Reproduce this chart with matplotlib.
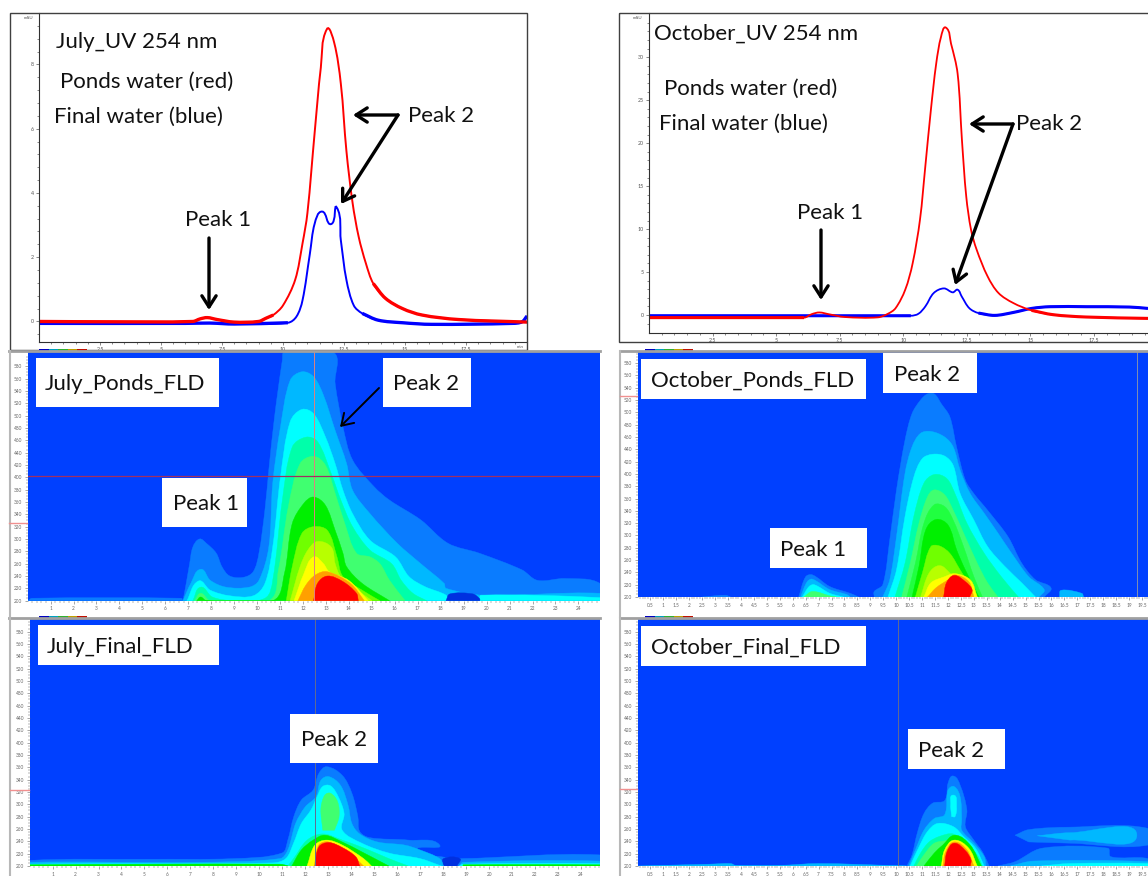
import matplotlib
matplotlib.use('Agg')

import numpy as np
import matplotlib.pyplot as plt
from matplotlib.patches import PathPatch, Rectangle
from matplotlib.path import Path

plt.rcParams['font.family'] = ['Lato', 'DejaVu Sans']

W, H = 1148, 876

## UV traces, (min, mAU) ##
JUL_RED_T = [0, 3, 6.3, 6.6, 6.9, 7.3, 8, 9, 9.3, 9.6, 10, 10.5, 10.8, 11, 11.3, 11.55, 11.8, 12.1, 12.37, 12.6, 12.85, 13.1, 13.4, 13.7, 14.2, 14.9, 15.7, 17.2, 20]
JUL_RED_Y = [0.0, -0.01, 0.0, 0.08, 0.12, 0.06, -0.02, 0.0, 0.1, 0.2, 0.5, 1.3, 2.43, 3.37, 5.9, 7.9, 9.1, 8.67, 7.4, 5.3, 3.7, 2.64, 1.8, 1.18, 0.72, 0.4, 0.2, 0.06, -0.02]
JUL_BLUE_T = [0, 6, 7, 8, 10.2, 10.55, 10.8, 11.1, 11.3, 11.6, 11.97, 12.2, 12.37, 12.6, 12.9, 13.25, 13.9, 14.9, 16.1, 19.4, 19.8, 20]
JUL_BLUE_Y = [-0.06, -0.06, -0.05, -0.08, -0.04, 0.15, 0.66, 2.1, 3.05, 3.42, 3.03, 3.55, 2.53, 1.29, 0.5, 0.25, 0.04, -0.04, -0.09, -0.06, -0.01, 0.17]

OCT_RED_T = [0, 6.1, 6.4, 6.7, 7.1, 7.7, 9.0, 9.4, 9.7, 10.08, 10.37, 10.66, 10.87, 11.09, 11.3, 11.49, 11.68, 11.88, 12.14, 12.31, 12.48, 12.67, 12.89, 13.32, 13.75, 14.33, 15.05, 15.9, 17.2, 19.63]
OCT_RED_Y = [-0.3, -0.3, 0.1, 0.3, 0.08, -0.23, -0.27, 0.15, 0.8, 2.95, 6, 11.1, 17.3, 23.9, 29.3, 32.4, 33.45, 31.6, 28.1, 20.4, 13.8, 9.9, 7.6, 4.5, 2.56, 1.4, 0.54, 0.04, -0.23, -0.39]
OCT_BLUE_T = [0, 10.3, 10.6, 10.87, 11.2, 11.6, 11.95, 12.14, 12.3, 12.6, 12.96, 13.6, 14.33, 15.05, 15.77, 17.2, 18.9, 19.63]
OCT_BLUE_Y = [-0.08, -0.08, 0.15, 1.0, 2.56, 3.1, 2.64, 2.95, 2.17, 0.8, 0.23, -0.04, 0.3, 0.77, 0.97, 0.97, 0.93, 0.77]

## FLD contour outlines, (min, nm) ##
JP_BASE = [(0, 200), (0.2, 204), (6.7, 204), (6.77, 200)]
JP_L1 = [(6.77, 200), (6.91, 228), (7.06, 260), (7.2, 287), (7.49, 300), (7.79, 293), (8.22, 277), (8.47, 255), (8.81, 240), (9.41, 238), (9.83, 247), (10.08, 277), (10.34, 347), (10.51, 412), (10.76, 498), (11.1, 590), (11.19, 603), (13.31, 603), (13.4, 552), (13.74, 482), (14.16, 428), (15.09, 385), (15.77, 363), (17.13, 331), (18.32, 293), (19.68, 277), (21.54, 250), (22.22, 233), (23.41, 236), (24.94, 228), (24.94, 200)]
JP_L2 = [(6.77, 200), (7.11, 228), (7.54, 251), (7.96, 233), (8.64, 222), (9.66, 222), (10.08, 233), (10.51, 287), (10.68, 390), (11.02, 482), (11.44, 557), (11.95, 571), (12.46, 563), (12.89, 533), (13.4, 476), (13.9, 422), (14.16, 379), (14.92, 341), (16.11, 293), (17.13, 260), (18.15, 228), (18.23, 220), (19.85, 209), (24.94, 212), (24.94, 200)]
JP_L3 = [(6.94, 200), (7.45, 232), (7.96, 217), (8.81, 208), (9.83, 208), (10.34, 228), (10.68, 287), (11.02, 401), (11.44, 490), (11.95, 510), (12.46, 503), (12.97, 466), (13.4, 422), (13.74, 379), (14.16, 341), (14.92, 298), (16.03, 271), (16.62, 239), (17.3, 223), (18.23, 209), (18.32, 200)]
JP_L3B = [(19.7, 200), (19.76, 209), (24.94, 205), (24.94, 200)]
JP_GAP = [(18.23, 200), (18.4, 211), (19.4, 211), (19.7, 203), (19.7, 200)]
JP_L4 = [(7.2, 200), (7.54, 222), (8.05, 206), (8.98, 200), (10.34, 204), (10.68, 233), (11.1, 363), (11.53, 449), (12.12, 465), (12.63, 458), (13.23, 406), (13.65, 363), (14.16, 320), (14.92, 282), (15.86, 260), (16.28, 233), (16.79, 212), (17.39, 200)]
JP_L5 = [(7.28, 200), (7.54, 212), (7.96, 200), (10.51, 200), (10.93, 250), (11.36, 352), (11.87, 422), (12.46, 434), (12.97, 420), (13.4, 374), (13.82, 325), (14.33, 277), (14.92, 271), (15.35, 260), (15.77, 233), (16.45, 200)]
JP_L6 = [(7.37, 200), (7.54, 206), (7.79, 200), (10.68, 200), (11.19, 244), (11.53, 325), (12.04, 358), (12.46, 368), (12.97, 355), (13.4, 314), (13.74, 277), (13.9, 255), (14.58, 228), (15.77, 200)]
JP_L7 = [(11.27, 200), (11.53, 255), (11.95, 309), (12.46, 320), (13.06, 314), (13.48, 271), (13.74, 239), (14.58, 217), (15.35, 200)]
JP_L8 = [(11.44, 200), (11.87, 255), (12.21, 282), (12.63, 296), (13.23, 287), (13.4, 260), (13.65, 239), (14.67, 209), (15.01, 200)]
JP_L9 = [(11.61, 200), (12.04, 244), (12.46, 271), (12.89, 260), (13.14, 247), (13.99, 233), (14.84, 200)]
JP_L10 = [(11.78, 200), (12.12, 225), (12.55, 242), (13.06, 247), (14.07, 228), (14.67, 200)]
JP_L11 = [(12.46, 200), (12.63, 228), (13.06, 240), (13.74, 231), (14.33, 212), (14.41, 200)]

OP_L1 = [(9.15, 200), (9.15, 209), (9.48, 220), (9.75, 293), (10.01, 374), (10.34, 455), (10.61, 498), (10.94, 520), (11.21, 530), (11.47, 530), (11.74, 514), (12.07, 493), (12.33, 444), (12.67, 390), (13.0, 368), (13.53, 341), (14.32, 298), (14.85, 255), (15.38, 228), (15.98, 215), (15.72, 200)]
OP_P1_L1 = [(6.23, 200), (6.5, 233), (6.76, 236), (7.43, 217), (8.22, 206), (8.55, 200)]
OP_P1_L2 = [(6.3, 200), (6.56, 225), (6.76, 229), (7.43, 212), (8.09, 204), (8.22, 200)]
OP_P1_L3 = [(6.37, 200), (6.63, 217), (6.83, 220), (7.43, 206), (7.96, 200)]
OP_P1_L4 = [(6.43, 200), (6.76, 209), (7.43, 202), (7.69, 200)]
OP_TAIL = [(16.31, 200), (16.38, 211), (17.17, 206), (17.24, 200)]
OP_BUMP = [(2.5, 200), (3.4, 203), (3.6, 200)]
OP_L2 = [(9.48, 200), (9.75, 228), (10.01, 298), (10.34, 401), (10.61, 444), (10.94, 466), (11.34, 469), (11.87, 460), (12.2, 444), (12.47, 406), (12.86, 368), (13.4, 336), (13.93, 304), (14.46, 271), (15.12, 233), (15.72, 212), (15.52, 200)]
OP_L3 = [(9.68, 200), (10.01, 244), (10.34, 331), (10.68, 395), (11.01, 425), (11.41, 432), (11.87, 429), (12.2, 414), (12.47, 368), (13.0, 325), (13.53, 282), (14.19, 250), (14.85, 223), (15.38, 200)]
OP_L4 = [(9.95, 200), (10.34, 255), (10.68, 331), (11.07, 385), (11.47, 399), (11.94, 393), (12.27, 368), (12.73, 320), (13.4, 271), (14.06, 233), (14.72, 200)]
OP_L5 = [(10.21, 200), (10.54, 255), (10.88, 320), (11.21, 363), (11.47, 374), (11.87, 366), (12.2, 341), (12.6, 304), (13.13, 255), (13.53, 223), (13.93, 200)]
OP_L5B = [(10.41, 200), (10.74, 255), (11.07, 320), (11.47, 350), (11.87, 347), (12.2, 325), (12.6, 282), (13.0, 233), (13.33, 200)]
OP_L6 = [(10.61, 200), (10.88, 250), (11.14, 309), (11.54, 326), (12.0, 317), (12.33, 277), (12.67, 244), (13.2, 200)]
OP_L7 = [(10.74, 200), (11.01, 239), (11.34, 282), (11.67, 283), (12.07, 271), (12.47, 244), (13.13, 200)]
OP_L8 = [(10.94, 200), (11.27, 239), (11.67, 251), (12.07, 239), (13.06, 200)]
OP_L9 = [(11.07, 200), (11.34, 223), (11.87, 233), (12.27, 238), (12.86, 228), (13.13, 200)]
OP_L10 = [(11.21, 200), (11.54, 215), (12.0, 228), (12.27, 236), (12.8, 225), (13.0, 200)]
OP_L11 = [(11.83, 200), (11.94, 223), (12.24, 235), (12.67, 225), (12.93, 212), (12.84, 200)]

JF_L1 = [(0, 200), (0, 209), (5.14, 211), (8.86, 212), (10.98, 221), (11.24, 242), (11.5, 280), (11.83, 307), (12.34, 323), (12.59, 350), (12.93, 361), (13.61, 347), (14.03, 318), (14.29, 280), (14.37, 256), (14.8, 246), (16.49, 242), (17.85, 234), (16.83, 225), (17.93, 215), (18.69, 212), (24.8, 218), (24.83, 200)]
JF_GAP = [(18.02, 200), (18.02, 212), (18.73, 212), (18.6, 200)]
JF_L2 = [(0, 200), (0, 206), (7.17, 206), (10.9, 212), (11.24, 226), (11.58, 269), (12.0, 296), (12.46, 312), (12.68, 339), (13.02, 345), (13.53, 331), (13.86, 299), (14.03, 269), (14.37, 252), (15.14, 239), (16.32, 234), (17.0, 226), (17.85, 212), (18.02, 200)]
JF_L2B = [(18.7, 200), (18.87, 206), (24.8, 208), (24.83, 200)]
JF_L3 = [(0, 200), (0, 203), (10.56, 205), (11.15, 212), (11.49, 237), (11.83, 269), (12.25, 291), (12.51, 312), (12.76, 329), (13.1, 330), (13.44, 312), (13.69, 285), (13.61, 258), (14.46, 237), (15.64, 221), (17.0, 212), (17.93, 200)]
JF_L3B = [(18.7, 200), (18.87, 203), (24.8, 204), (24.83, 200)]
JF_L4 = [(11.24, 200), (11.49, 212), (12.08, 242), (12.76, 252), (13.61, 242), (14.63, 228), (15.64, 212), (16.49, 200)]
JF_ISLE = [(12.76, 258), (12.68, 293), (12.85, 315), (13.1, 318), (13.41, 304), (13.47, 280), (13.27, 258)]
JF_STRIP = [(0, 200), (0, 202), (10.9, 203), (11.3, 200)]
JF_STRIPB = [(18.87, 200), (18.87, 202), (24.83, 202), (24.83, 200)]
JF_L6 = [(11.41, 200), (11.83, 226), (12.34, 242), (12.85, 250), (13.61, 239), (14.46, 223), (15.64, 200)]
JF_L9 = [(12.08, 200), (12.42, 234), (12.93, 242), (13.61, 234), (14.54, 212), (14.88, 200)]
JF_L10 = [(12.39, 200), (12.59, 234), (13.02, 239), (13.86, 223), (14.54, 200)]
JF_L11 = [(12.42, 200), (12.59, 231), (13.02, 238), (13.61, 230), (14.2, 215), (14.37, 200)]

OF_BASE = [(0, 200), (2.8, 203), (3.6, 204), (3.8, 201), (5.5, 201), (7.0, 204), (9.7, 201), (10.4, 200)]
OF_L1 = [(10.41, 200), (10.61, 218), (10.81, 253), (11.07, 285), (11.41, 302), (11.87, 306), (12.0, 334), (12.2, 346), (12.47, 331), (12.73, 291), (12.67, 264), (13.0, 242), (13.33, 223), (13.59, 200)]
OF_L2 = [(10.48, 200), (10.74, 226), (11.07, 258), (11.47, 277), (11.87, 283), (12.0, 323), (12.23, 329), (12.47, 312), (12.53, 275), (12.53, 258), (13.0, 237), (13.4, 215), (13.46, 200)]
OF_ISLE = [(12.1, 296), (12.2, 315), (12.33, 296), (12.27, 280), (12.14, 280)]
OF_L3 = [(10.54, 200), (10.88, 231), (11.21, 256), (11.6, 269), (12.2, 264), (12.6, 248), (13.06, 229), (13.4, 200)]
OF_L4 = [(10.68, 200), (10.94, 221), (11.27, 239), (11.67, 248), (12.2, 252), (12.6, 239), (13.13, 218), (13.33, 200)]
OF_L5 = [(10.78, 200), (11.07, 218), (11.47, 237), (12.0, 242), (12.27, 248), (12.8, 229), (13.26, 200)]
OF_L6 = [(11.07, 200), (11.47, 221), (11.8, 234), (12.27, 250), (12.86, 234), (13.29, 200)]
OF_L9 = [(11.74, 200), (11.87, 226), (12.24, 242), (12.8, 229), (13.13, 200)]
OF_L10 = [(11.8, 200), (11.91, 223), (12.24, 239), (12.73, 226), (13.0, 200)]
OF_L11 = [(11.87, 200), (11.96, 223), (12.24, 237), (12.67, 225), (12.89, 210), (12.86, 200)]
OF_TAIL_L1 = [(13.93, 200), (14.59, 207), (15.65, 229), (18.17, 229), (18.3, 215), (19.73, 212), (19.73, 200)]
OF_CLOUD_L1 = [(14.59, 250), (15.12, 259), (16.71, 263), (19.73, 261), (19.73, 234), (16.71, 237), (15.12, 239)]
OF_CLOUD_L2 = [(15.45, 249), (16.71, 254), (19.3, 250), (16.71, 242)]
OF_TAIL_L2 = [(14.4, 200), (15.3, 208), (19.73, 207), (19.73, 200)]
OF_TAIL_L3 = [(15.6, 200), (16.7, 204), (19.73, 204), (19.73, 200)]

BG = '#0040ff'
C1, C2, C3, C4, C5 = '#0a7cff', '#00b8ff', '#00ffff', '#00ffaa', '#40ff70'
C6, C7, C8, C9, C10, C11 = '#00f000', '#70ff00', '#b8ff00', '#ffff00', '#ffa000', '#ff0000'
GAP = '#0030e0'

JP_BANDS = [(JP_BASE, C1), (JP_L1, C1), (JP_L2, C2), (JP_L3, C3), (JP_L3B, C3), (JP_GAP, GAP), (JP_L4, C4), (JP_L5, C5),
            (JP_L6, C6), (JP_L7, C7), (JP_L8, C8), (JP_L9, C9), (JP_L10, C10), (JP_L11, C11)]
OP_BANDS = [(OP_BUMP, C1), (OP_TAIL, C2), (OP_P1_L1, C1), (OP_P1_L2, C2), (OP_P1_L3, C3), (OP_P1_L4, C5), (OP_L1, C1), (OP_L2, C2), (OP_L3, C3),
            (OP_L4, C4), (OP_L5, C5), (OP_L5B, '#20ff40'), (OP_L6, C6), (OP_L7, C7), (OP_L8, C8), (OP_L9, C9), (OP_L10, C10), (OP_L11, C11)]
JF_BANDS = [(JF_L1, C1), (JF_GAP, GAP), (JF_L2, C2), (JF_L2B, C2), (JF_L3, C3), (JF_L3B, C3), (JF_STRIP, C6), (JF_STRIPB, C6), (JF_ISLE, C5),
            (JF_L4, C4), (JF_L6, C6), (JF_L9, C9), (JF_L10, C10), (JF_L11, C11)]
OF_BANDS = [(OF_BASE, C2), (OF_TAIL_L1, C1), (OF_TAIL_L2, C2), (OF_TAIL_L3, C3), (OF_CLOUD_L1, C1), (OF_CLOUD_L2, C2), (OF_L1, C1), (OF_L2, C2), (OF_ISLE, C3), (OF_L3, C3),
            (OF_L4, C4), (OF_L5, C5), (OF_L6, C6), (OF_L9, C9), (OF_L10, C10), (OF_L11, C11)]

JP_LABELS = [('July_Ponds_FLD', 36, 358, 183, 49, 45), ('Peak 2', 383, 358, 88, 49, 393), ('Peak 1', 162, 478, 85, 49, 173)]
OP_LABELS = [('October_Ponds_FLD', 641, 359, 225, 40, 651), ('Peak 2', 883, 353, 94, 40, 894), ('Peak 1', 770, 528, 97, 40, 780)]
JF_LABELS = [('July_Final_FLD', 38, 625, 181, 40, 47), ('Peak 2', 290, 714, 88, 49, 301)]
OF_LABELS = [('October_Final_FLD', 641, 626, 225, 40, 651), ('Peak 2', 908, 729, 97, 40, 918)]


def smooth_path(pts, k, close):
    # bezier path through the read points, k = y units per x unit on screen
    p = np.array(pts, dtype=float)
    p[:, 1] /= k
    n = len(p)
    tan = np.zeros_like(p)
    tan[0] = p[1] - p[0]
    tan[-1] = p[-1] - p[-2]
    tan[1:-1] = p[2:] - p[:-2]
    tan = tan / np.maximum(np.linalg.norm(tan, axis=1, keepdims=True), 1e-9)
    verts = [p[0]]
    codes = [Path.MOVETO]
    for i in range(n - 1):
        seg = np.linalg.norm(p[i + 1] - p[i])
        verts += [p[i] + tan[i] * seg / 3, p[i + 1] - tan[i + 1] * seg / 3, p[i + 1]]
        codes += [Path.CURVE4] * 3
    if close:
        verts.append(p[0])
        codes.append(Path.CLOSEPOLY)
    verts = np.array(verts)
    verts[:, 1] *= k
    return Path(verts, codes)


def px_axes(fig, x0, y0, x1, y1):
    return fig.add_axes([x0 / W, 1 - y1 / H, (x1 - x0) / W, (y1 - y0) / H])


def uv_panel(fig, box, xlim, ylim, yticks, yminor, red, blue, lw, k):
    ax = px_axes(fig, *box)
    ax.set_xlim(*xlim)
    ax.set_ylim(*ylim)
    for s in ['top', 'right']:
        ax.spines[s].set_visible(False)
    for s in ['left', 'bottom']:
        ax.spines[s].set_color('#303030')
    ax.set_xticks(np.arange(2.5, 18, 2.5))
    ax.set_xticklabels(['2.5', '5', '7.5', '10', '12.5', '15', '17.5'])
    ax.set_xticks(np.arange(0.5, xlim[1], 0.5), minor=True)
    ax.set_yticks(yticks)
    ax.set_yticks(yminor, minor=True)
    ax.tick_params(labelsize=3.8, length=2, width=0.5, colors='#555555', pad=1.5)
    ax.tick_params(which='minor', length=1.2, width=0.4, colors='#303030')
    for (t, y, lo, hi), col in [(blue, '#0000ff'), (red, '#ff0000')]:
        pts = list(zip(t, y))
        ax.add_patch(PathPatch(smooth_path(pts, k, False), fill=False, ec=col, lw=lw))
        # flat stretches look thicker in the reference (detector noise)
        for part in ([q for q in pts if q[0] <= lo], [q for q in pts if q[0] >= hi]):
            ax.add_patch(PathPatch(smooth_path(part, k, False), fill=False, ec=col, lw=lw * 1.7))
    return ax


def fld_panel(fig, box, tmax, ytop, bands, xlabels, xstep, xminor, vline, vcol, hline=None):
    ax = px_axes(fig, *box)
    ax.set_facecolor(BG)
    ax.set_xlim(0, tmax)
    ax.set_ylim(200, ytop)
    for outline, col in bands:
        ax.add_patch(PathPatch(smooth_path(outline, 34.0, True), fc=col, ec=col, lw=0.3))
    ax.axvline(vline, color=vcol, lw=0.7)
    if hline is not None:
        ax.axhline(hline, color='#a03060', lw=0.9)
    for s in ax.spines.values():
        s.set_visible(False)
    ax.set_xticks(np.arange(1, len(xlabels) + 1) * xstep)
    ax.set_xticklabels(xlabels)
    ax.set_xticks(np.arange(xminor, tmax, xminor), minor=True)
    ax.set_yticks(np.arange(200, 600, 20))
    ax.set_yticks(np.arange(200, 600, 5), minor=True)
    ax.tick_params(labelsize=3.4, length=2.5, width=0.4, colors='#666666', pad=1.5)
    ax.tick_params(which='minor', length=1.5, width=0.3, colors='#555555')
    return ax


def main():
    fig = plt.figure(figsize=(W / 100, H / 100), dpi=100)

    uv_panel(fig, (39, 13, 527, 341.7), (0, 20.0), (-0.63, 9.6), [0, 2, 4, 6, 8], np.arange(-0.4, 9.6, 0.4),
             (JUL_RED_T, JUL_RED_Y, 9.6, 13.7), (JUL_BLUE_T, JUL_BLUE_Y, 10.2, 13.25), 1.4, 0.76)
    uv_panel(fig, (649, 13, 1148, 333), (0, 19.63), (-2.09, 35.15), [0, 5, 10, 15, 20, 25, 30], np.arange(-1, 35, 1),
             (OCT_RED_T, OCT_RED_Y, 6.1, 15.05), (OCT_BLUE_T, OCT_BLUE_Y, 10.3, 12.96), 1.3, 2.95)

    int_labels = [str(i) for i in range(1, 25)]
    half_labels = ['%g' % (i * 0.5) for i in range(1, 40)]
    fld_panel(fig, (27.6, 352, 600, 600.7), 24.94, 603, JP_BANDS, int_labels, 1, 0.2, 12.48, '#e08080', hline=402)
    fld_panel(fig, (637.5, 352, 1148, 597), 19.73, 598, OP_BANDS, half_labels, 0.5, 0.1, 19.3, '#8090b0')
    fld_panel(fig, (29.6, 619.3, 600, 866), 24.83, 600, JF_BANDS, int_labels, 1, 0.2, 12.42, '#606c90')
    fld_panel(fig, (637.5, 619.3, 1148, 866), 19.73, 600, OF_BANDS, half_labels, 0.5, 0.1, 10.05, '#606c90')

    # overlay in picture pixels for frames, labels and arrows
    ov = fig.add_axes([0, 0, 1, 1], zorder=10)
    ov.set_xlim(0, W)
    ov.set_ylim(H, 0)
    ov.axis('off')
    ov.patch.set_alpha(0)

    ov.add_patch(Rectangle((10, 13), 517, 337, fill=False, ec='#404040', lw=1))
    ov.add_patch(Rectangle((619, 13), 540, 329, fill=False, ec='#404040', lw=1))
    ov.plot([9, 600], [350.5, 350.5], color='#a0a0a0', lw=2)
    ov.plot([620, 1148], [350.5, 350.5], color='#a0a0a0', lw=2)
    ov.plot([9, 600], [617.5, 617.5], color='#a0a0a0', lw=2)
    ov.plot([620, 1148], [617.5, 617.5], color='#a0a0a0', lw=2)
    for x in [9.5, 620]:
        ov.plot([x, x], [351, 617], color='#b8b8b8', lw=1.5)
        ov.plot([x, x], [618, 876], color='#b8b8b8', lw=1.5)
    for x0, x1, y0 in [(9, 27, 523), (620, 637, 396), (10, 29, 790), (620, 637, 789)]:
        ov.plot([x0, x1], [y0, y0], color='#f09090', lw=1)
    for x0, y0 in [(39, 350), (645, 350), (39, 617), (645, 617)]:
        for i, col in enumerate(['#0000c0', '#00a0c0', '#30b030', '#c0a000', '#c01000']):
            ov.add_patch(Rectangle((x0 + i * 9.5, y0 - 1), 9.5, 2, color=col, lw=0))

    for labels in [JP_LABELS, OP_LABELS, JF_LABELS, OF_LABELS]:
        for txt, x, y, w, h, tx in labels:
            ov.add_patch(Rectangle((x, y), w, h, fc='white', ec='none'))
            ov.text(tx, y + h / 2 + 2, txt, fontsize=16, ha='left', va='center', color='#111111')

    for txt, x, y in [('July_UV 254 nm', 56, 40), ('Ponds water (red)', 60, 80), ('Final water (blue)', 54, 115),
                      ('Peak 2', 408, 114), ('Peak 1', 185, 218),
                      ('October_UV 254 nm', 654, 32), ('Ponds water (red)', 664, 87), ('Final water (blue)', 659, 122),
                      ('Peak 2', 1016, 122), ('Peak 1', 797, 211)]:
        ov.text(x, y + 2, txt, fontsize=16, ha='left', va='center', color='#111111')

    for a, b, lw in [((398, 115), (353, 115), 2.4), ((398, 115), (341, 204), 2.4), ((209, 238), (209, 310), 2.4),
                     ((1013, 124), (969, 124), 2.4), ((1013, 124), (955, 285), 2.4), ((821, 230), (821, 300), 2.4),
                     ((379, 388), (340, 427), 1.4)]:
        ov.annotate('', xy=b, xytext=a, xycoords='data', textcoords='data',
                    arrowprops=dict(arrowstyle='->,head_length=0.5,head_width=0.32', lw=lw, color='black',
                                    shrinkA=0, shrinkB=0, mutation_scale=16))

    ov.text(33, 18, 'mAU', fontsize=3.2, color='#555555', ha='right', va='center')
    ov.text(642, 18, 'mAU', fontsize=3.2, color='#555555', ha='right', va='center')
    ov.text(524, 347, 'min', fontsize=3.2, color='#555555', ha='right', va='center')

    fig.savefig('out.png', dpi=100, facecolor='white')
    plt.close(fig)


if __name__ == "__main__":
    main()
